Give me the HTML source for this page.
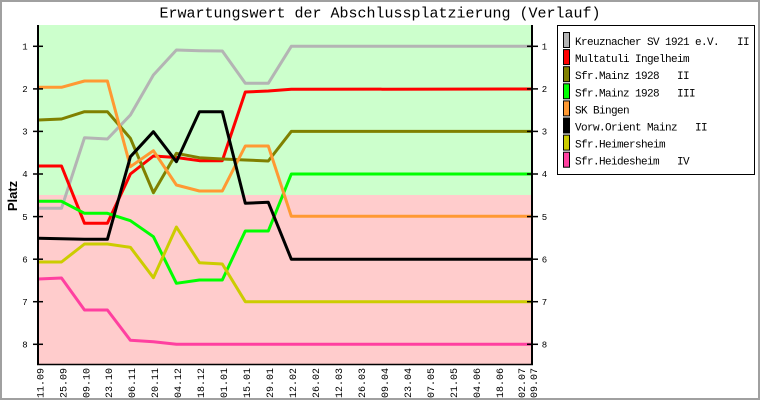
<!DOCTYPE html>
<html><head><meta charset="utf-8"><style>
html,body{margin:0;padding:0;background:#fff;}
svg{display:block;}
text{font-family:"Liberation Mono",monospace;fill:#000;}
</style></head><body>
<svg width="760" height="400" viewBox="0 0 760 400" xmlns="http://www.w3.org/2000/svg">
<rect x="0" y="0" width="760" height="400" fill="#fff"/>
<rect x="1" y="1" width="758" height="398" fill="none" stroke="#a0a0a0" stroke-width="2"/>
<text x="380" y="17.5" text-anchor="middle" font-size="15">Erwartungswert der Abschlussplatzierung (Verlauf)</text>
<!-- backgrounds -->
<rect x="38" y="25" width="494" height="170" fill="#ccffcc"/>
<rect x="38" y="195" width="494" height="170" fill="#ffcccc"/>
<!-- series -->
<g fill="none" stroke-width="3" stroke-linejoin="round">
<polyline stroke="#b4b4b4" points="38.5,208.3 61.5,208.3 84.5,137.7 107.4,139 130.4,115 153.4,75 176.4,50 199.4,50.7 222.3,51 245.3,83.3 268.3,83.3 291.3,46.3 532,46.3"/>
<polyline stroke="#ff0000" points="38.5,166 61.5,166 84.5,223.3 107.4,223.3 130.4,174 153.4,156 176.4,157.5 199.4,160.7 222.3,160.7 245.3,92 268.3,91 291.3,89.3 532,89"/>
<polyline stroke="#808000" points="38.5,120 61.5,119 84.5,111.7 107.4,111.7 130.4,138.3 153.4,192.7 176.4,153.3 199.4,157.7 222.3,159 245.3,160 268.3,161 291.3,131.4 532,131.4"/>
<polyline stroke="#00ff00" points="38.5,201.3 61.5,201.3 84.5,213.3 107.4,213.3 130.4,220.7 153.4,236.7 176.4,283.3 199.4,280 222.3,280 245.3,231 268.3,231 291.3,174 532,174"/>
<polyline stroke="#ff9933" points="38.5,87.3 61.5,87.3 84.5,81 107.4,81 130.4,166.7 153.4,150.7 176.4,185 199.4,191 222.3,191 245.3,146 268.3,146 291.3,216.3 532,216.3"/>
<polyline stroke="#000000" points="38.5,238.3 61.5,238.7 84.5,239.3 107.4,239.3 130.4,156.7 153.4,131.7 176.4,161.7 199.4,111.7 222.3,111.7 245.3,203.3 268.3,202.3 291.3,259.2 532,259.2"/>
<polyline stroke="#cccc00" points="38.5,262 61.5,262 84.5,244 107.4,244 130.4,247.3 153.4,277.7 176.4,227 199.4,262.7 222.3,264 245.3,301.7 532,301.7"/>
<polyline stroke="#ff40a0" points="38.5,279 61.5,278 84.5,310 107.4,310 130.4,340.3 153.4,341.7 176.4,344.3 532,344.3"/>
</g>
<!-- axes -->
<line x1="38" y1="25" x2="38" y2="365" stroke="#000" stroke-width="2"/>
<line x1="532" y1="25" x2="532" y2="365" stroke="#000" stroke-width="2"/>
<line x1="37" y1="364.5" x2="533" y2="364.5" stroke="#000" stroke-width="1.5"/>
<g stroke="#000" stroke-width="1.5">
<line x1="33" y1="46.3" x2="43" y2="46.3"/><line x1="527" y1="46.3" x2="538" y2="46.3"/>
<line x1="33" y1="88.9" x2="43" y2="88.9"/><line x1="527" y1="88.9" x2="538" y2="88.9"/>
<line x1="33" y1="131.4" x2="43" y2="131.4"/><line x1="527" y1="131.4" x2="538" y2="131.4"/>
<line x1="33" y1="174" x2="43" y2="174"/><line x1="527" y1="174" x2="538" y2="174"/>
<line x1="33" y1="216.6" x2="43" y2="216.6"/><line x1="527" y1="216.6" x2="538" y2="216.6"/>
<line x1="33" y1="259.2" x2="43" y2="259.2"/><line x1="527" y1="259.2" x2="538" y2="259.2"/>
<line x1="33" y1="301.7" x2="43" y2="301.7"/><line x1="527" y1="301.7" x2="538" y2="301.7"/>
<line x1="33" y1="344.3" x2="43" y2="344.3"/><line x1="527" y1="344.3" x2="538" y2="344.3"/>
</g>
<g font-size="9" text-anchor="middle">
<text x="25" y="49.5">1</text><text x="544.5" y="49.5">1</text>
<text x="25" y="92">2</text><text x="544.5" y="92">2</text>
<text x="25" y="134.5">3</text><text x="544.5" y="134.5">3</text>
<text x="25" y="177">4</text><text x="544.5" y="177">4</text>
<text x="25" y="219.8">5</text><text x="544.5" y="219.8">5</text>
<text x="25" y="262.4">6</text><text x="544.5" y="262.4">6</text>
<text x="25" y="305">7</text><text x="544.5" y="305">7</text>
<text x="25" y="347.5">8</text><text x="544.5" y="347.5">8</text>
</g>
<text transform="translate(17,196) rotate(-90)" text-anchor="middle" font-size="13" font-weight="bold" style="font-family:'Liberation Sans',sans-serif">Platz</text>
<!-- x labels -->
<g font-size="10" text-anchor="end">
<text transform="translate(43.3,368) rotate(-90)">11.09</text>
<text transform="translate(66.3,368) rotate(-90)">25.09</text>
<text transform="translate(89.3,368) rotate(-90)">09.10</text>
<text transform="translate(112.2,368) rotate(-90)">23.10</text>
<text transform="translate(135.2,368) rotate(-90)">06.11</text>
<text transform="translate(158.2,368) rotate(-90)">20.11</text>
<text transform="translate(181.2,368) rotate(-90)">04.12</text>
<text transform="translate(204.2,368) rotate(-90)">18.12</text>
<text transform="translate(227.1,368) rotate(-90)">01.01</text>
<text transform="translate(250.1,368) rotate(-90)">15.01</text>
<text transform="translate(273.1,368) rotate(-90)">29.01</text>
<text transform="translate(296.1,368) rotate(-90)">12.02</text>
<text transform="translate(319.1,368) rotate(-90)">26.02</text>
<text transform="translate(342.0,368) rotate(-90)">12.03</text>
<text transform="translate(365.0,368) rotate(-90)">26.03</text>
<text transform="translate(388.0,368) rotate(-90)">09.04</text>
<text transform="translate(411.0,368) rotate(-90)">23.04</text>
<text transform="translate(434.0,368) rotate(-90)">07.05</text>
<text transform="translate(456.9,368) rotate(-90)">21.05</text>
<text transform="translate(479.9,368) rotate(-90)">04.06</text>
<text transform="translate(502.9,368) rotate(-90)">18.06</text>
<text transform="translate(525.0,368) rotate(-90)">02.07</text>
<text transform="translate(537.0,368) rotate(-90)">09.07</text>
</g>
<!-- legend -->
<rect x="557.5" y="25.5" width="197" height="149" fill="#fff" stroke="#000" stroke-width="1"/>
<g stroke="#000" stroke-width="1">
<rect x="563.5" y="32.5" width="6" height="15" fill="#b4b4b4"/>
<rect x="563.5" y="49.6" width="6" height="15" fill="#ff0000"/>
<rect x="563.5" y="66.7" width="6" height="15" fill="#808000"/>
<rect x="563.5" y="83.8" width="6" height="15" fill="#00ff00"/>
<rect x="563.5" y="100.9" width="6" height="15" fill="#ff9933"/>
<rect x="563.5" y="118" width="6" height="15" fill="#000000"/>
<rect x="563.5" y="135.1" width="6" height="15" fill="#cccc00"/>
<rect x="563.5" y="152.2" width="6" height="15" fill="#ff40a0"/>
</g>
<g font-size="11" letter-spacing="-0.6" style="white-space:pre">
<text x="575" y="45" xml:space="preserve">Kreuznacher SV 1921 e.V.   II</text>
<text x="575" y="62.1" xml:space="preserve">Multatuli Ingelheim</text>
<text x="575" y="79.2" xml:space="preserve">Sfr.Mainz 1928   II</text>
<text x="575" y="96.3" xml:space="preserve">Sfr.Mainz 1928   III</text>
<text x="575" y="113.4" xml:space="preserve">SK Bingen</text>
<text x="575" y="130.5" xml:space="preserve">Vorw.Orient Mainz   II</text>
<text x="575" y="147.6" xml:space="preserve">Sfr.Heimersheim</text>
<text x="575" y="164.7" xml:space="preserve">Sfr.Heidesheim   IV</text>
</g>
</svg>
</body></html>
